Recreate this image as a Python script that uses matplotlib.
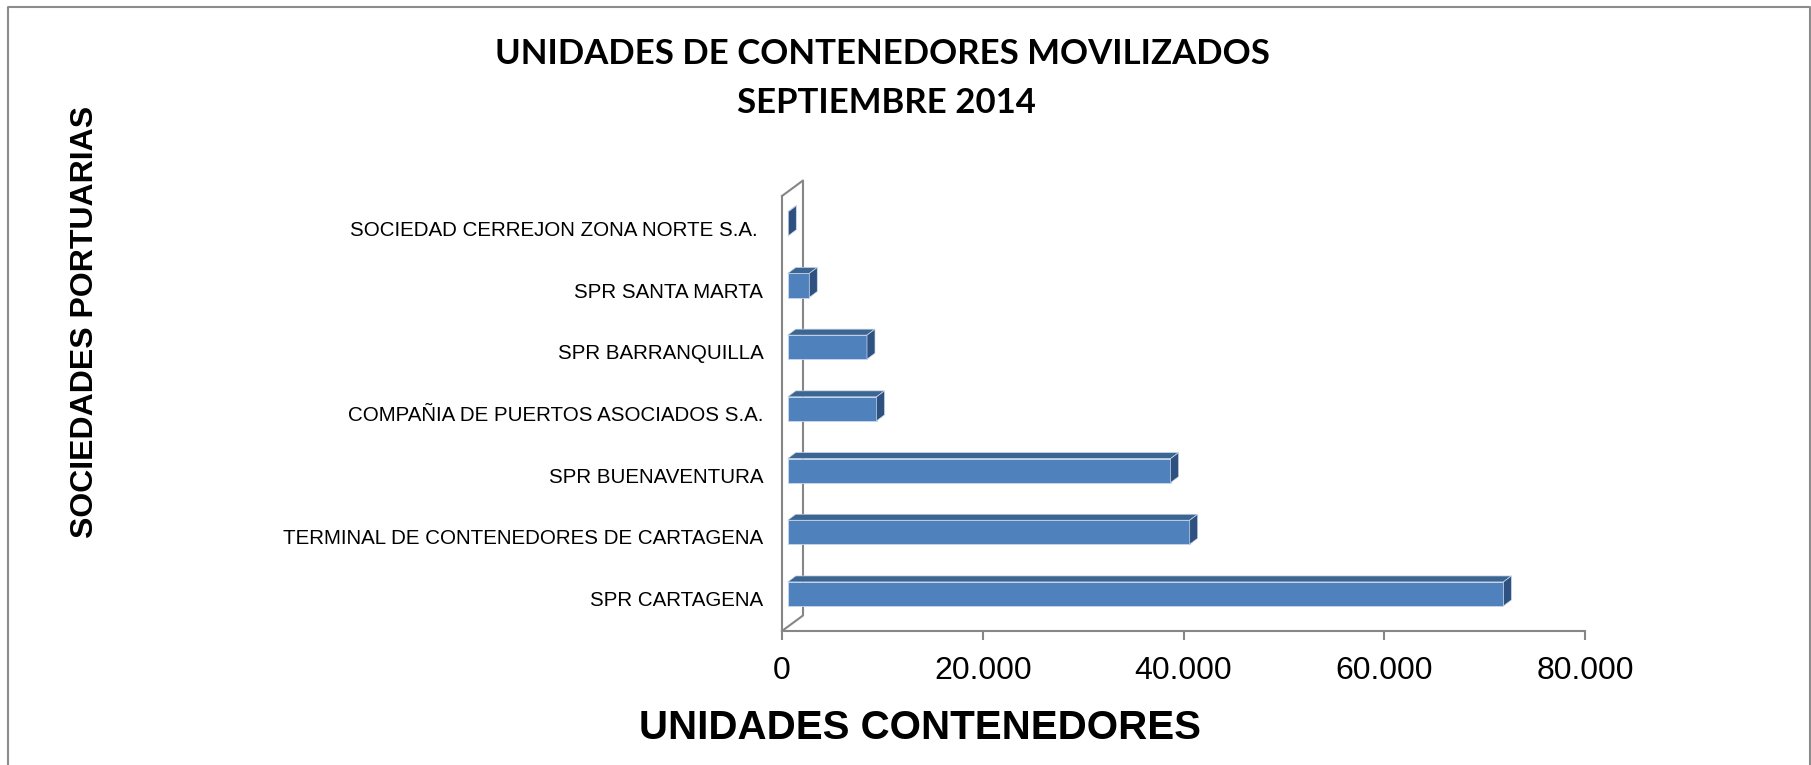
import matplotlib
matplotlib.use("Agg")
import matplotlib.pyplot as plt
from matplotlib.patches import Polygon
from matplotlib.lines import Line2D
import numpy as np

# Data (bottom to top, as drawn)
CATEGORIES = [
    "SPR CARTAGENA",
    "TERMINAL DE CONTENEDORES DE CARTAGENA",
    "SPR BUENAVENTURA",
    "COMPAÑIA DE PUERTOS ASOCIADOS S.A.",
    "SPR BARRANQUILLA",
    "SPR SANTA MARTA",
    "SOCIEDAD CERREJON ZONA NORTE S.A. ",
]
UNITS = [71300, 40050, 38150, 8850, 7900, 2150, 60]
X_TICKS = [0, 20000, 40000, 60000, 80000]
X_TICK_LABELS = ["0", "20.000", "40.000", "60.000", "80.000"]

TITLE_1 = "UNIDADES DE CONTENEDORES MOVILIZADOS"
TITLE_2 = "SEPTIEMBRE 2014"
X_LABEL = "UNIDADES CONTENEDORES"
Y_LABEL = "SOCIEDADES PORTUARIAS"

# Figure geometry (pixels)
W, H, DPI = 1811, 765, 100
AX_L, AX_R, AX_B, AX_T = 782, 1585, 631, 196
XMAX = 80000
YLIM = (-0.6, 6.45)

# 3D look (pixels)
BAR_START_PX = 5.7
BAR_DX_PX, BAR_DY_PX = 8, 6
WALL_DX_PX, WALL_DY_PX = 21, 15.5
BAR_HEIGHT = 0.39

FRONT = "#4F81BD"
TOP = "#3C6592"
SIDE = "#2F5180"
EDGE = "#C9D8EC"
FRAME = "#868686"

fig = plt.figure(figsize=(W / DPI, H / DPI), dpi=DPI)
ax = fig.add_axes([AX_L / W, (H - AX_B) / H, (AX_R - AX_L) / W, (AX_B - AX_T) / H])
ax.set_xlim(0, XMAX)
ax.set_ylim(*YLIM)

# data units per pixel
ux = XMAX / (AX_R - AX_L)
uy = (YLIM[1] - YLIM[0]) / (AX_B - AX_T)

pos = np.arange(len(CATEGORIES))
z0 = BAR_START_PX * ux
ddx, ddy = BAR_DX_PX * ux, BAR_DY_PX * uy

# front faces
ax.barh(pos, UNITS, left=z0, height=BAR_HEIGHT, color=FRONT,
        edgecolor=EDGE, linewidth=0.6, zorder=3)

# top and side faces
for y, v in zip(pos, UNITS):
    x0, x1 = z0, z0 + v
    y0, y1 = y - BAR_HEIGHT / 2, y + BAR_HEIGHT / 2
    top = Polygon([(x0, y1), (x1, y1), (x1 + ddx, y1 + ddy), (x0 + ddx, y1 + ddy)],
                  closed=True, facecolor=TOP, edgecolor=EDGE, linewidth=0.5, zorder=3)
    side = Polygon([(x1, y0), (x1 + ddx, y0 + ddy), (x1 + ddx, y1 + ddy), (x1, y1)],
                   closed=True, facecolor=SIDE, edgecolor=EDGE, linewidth=0.5, zorder=3)
    ax.add_patch(top)
    ax.add_patch(side)

# back wall outline
wdx, wdy = WALL_DX_PX * ux, WALL_DY_PX * uy
ax.plot([0, wdx, wdx, 0], [YLIM[1], YLIM[1] + wdy, YLIM[0] + wdy, YLIM[0]],
        color=FRAME, linewidth=1.5, clip_on=False, zorder=1)

for s in ["top", "right"]:
    ax.spines[s].set_visible(False)
for s in ["left", "bottom"]:
    ax.spines[s].set_color(FRAME)
    ax.spines[s].set_linewidth(1.5)

ax.set_xticks(X_TICKS)
ax.set_xticklabels(X_TICK_LABELS, fontsize=23, family="Liberation Sans")
ax.tick_params(axis="x", direction="out", length=6.5, width=1.5, color=FRAME, pad=11.5)

ax.set_yticks(pos - 0.075)
ax.set_yticklabels(CATEGORIES, fontsize=14.8, family="Liberation Sans")
ax.tick_params(axis="y", length=0, pad=13.5)

# titles and axis labels
fig.text(882 / W, 1 - 54 / H, TITLE_1, ha="center", va="center",
         fontsize=25, fontweight="bold", family="Lato")
fig.text(886 / W, 1 - 103 / H, TITLE_2, ha="center", va="center",
         fontsize=25, fontweight="bold", family="Lato")
fig.text(920 / W, 1 - 728 / H, X_LABEL, ha="center", va="center",
         fontsize=29, fontweight="bold", family="Liberation Sans")
fig.text(85 / W, 1 - 322 / H, Y_LABEL, ha="center", va="center", rotation=90,
         fontsize=23, fontweight="bold", family="Liberation Sans")

# outer border (left, top, right)
bx0, bx1, by1 = 8 / W, 1810 / W, 1 - 7 / H
fig.add_artist(Line2D([bx0, bx0, bx1, bx1], [0, by1, by1, 0],
                      transform=fig.transFigure, color="#8C8C8C", linewidth=1.5))

fig.savefig("out.png", dpi=DPI)
